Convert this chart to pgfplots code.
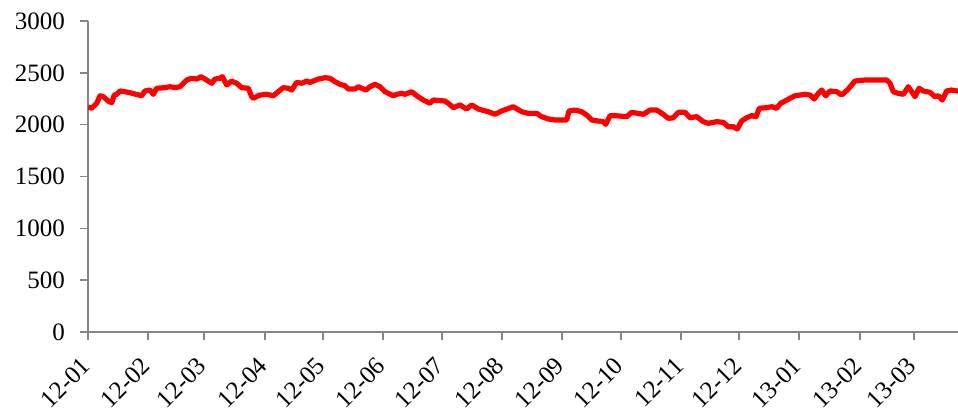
\documentclass[border=0pt]{standalone}
\usepackage{fontspec}
\setmainfont{Liberation Serif}
\usepackage{pgfplots}
\pgfplotsset{compat=1.18}
\definecolor{axgray}{RGB}{134,134,134}
\begin{document}
\begin{tikzpicture}
\useasboundingbox (-44pt,-38pt) rectangle (435pt,166pt);
\begin{axis}[
  scale only axis, width=435pt, height=155.5pt,
  at={(0,0)}, anchor=south west,
  xmin=0, xmax=870, ymin=0, ymax=3000,
  axis x line*=bottom, axis y line*=left,
  axis line style={axgray, line width=0.8pt, -},
  tick align=outside, major tick length=4pt,
  tick style={axgray, line width=0.8pt},
  ytick={0,500,1000,1500,2000,2500,3000},
  xtick={0,60,116,177,235,295,354,414,474,533,593,651,711,772,826},
  xticklabels={12-01,12-02,12-03,12-04,12-05,12-06,12-07,12-08,12-09,12-10,12-11,12-12,13-01,13-02,13-03},
  /pgf/number format/assume math mode=true,
  /pgf/number format/1000 sep={},
  yticklabel style={font=\fontsize{12.5}{14}\selectfont, xshift=-4pt},
  xticklabel style={font=\fontsize{12.5}{14}\selectfont, yshift=-8.5pt, xshift=1.5pt, rotate=45, anchor=east},
]
\addplot[red, line width=2.6pt, line join=round] coordinates {
(0,2170) (3.7,2158) (8.7,2206) (12,2279) (15.3,2270) (20.3,2228) (23.7,2212) (26.3,2286) (28.7,2293) (32,2325)
(40.3,2312) (53.7,2279) (57,2325) (62,2334) (65.3,2293) (68.7,2351) (77,2357) (82,2366) (87,2357) (92,2366)
(98.7,2431) (103.7,2447) (108.7,2440) (113,2463) (117,2440) (123.7,2399) (127,2440) (132,2447) (134.3,2463) (138.7,2383)
(143.7,2421) (148.7,2399) (153.7,2357) (160.3,2351) (163.7,2270) (165.3,2254) (170.3,2279) (172,2285) (178.7,2293) (185.3,2279)
(190.3,2318) (195.3,2357) (200.3,2351) (203.7,2334) (208.7,2408) (213.7,2399) (218.7,2421) (222,2408) (230.3,2440) (237,2453)
(242,2447) (247,2415) (252,2389) (257,2376) (260.3,2344) (267,2344) (270.3,2366) (273.7,2351) (278,2334) (282,2366)
(287,2389) (292,2366) (297,2318) (305.3,2279) (308.7,2293) (313.7,2302) (317,2293) (323.7,2318) (328.7,2279) (335.3,2238)
(342,2206) (345.3,2238) (352,2232) (357,2228) (360.3,2206) (365.3,2164) (372,2190) (378.7,2151) (383.7,2190) (390.3,2151)
(400.3,2125) (407,2100) (413.7,2132) (425.3,2173) (433.7,2125) (440.3,2109) (448.7,2109) (453.7,2077) (460.3,2055) (467,2045)
(475.3,2045) (478.7,2045) (481,2132) (487,2141) (493.7,2125) (498.7,2093) (503.7,2045) (510.3,2035) (515.3,2029) (517.7,2003)
(522,2087) (527,2087) (538.7,2077) (543.7,2119) (555.3,2100) (562,2141) (568.7,2141) (575.3,2100) (580.3,2061) (585.3,2067)
(590.3,2119) (597,2119) (602,2067) (608.7,2077) (615.3,2029) (620.3,2013) (628.7,2029) (635.3,2022) (640.3,1980) (645.3,1980)
(649.3,1958) (653.7,2035) (658.7,2067) (663.7,2087) (668,2077) (671.3,2158) (678.7,2164) (683.7,2173) (688.7,2158) (692.7,2206)
(697,2228) (702,2254) (707,2279) (717,2293) (722,2286) (726.3,2248) (730.3,2302) (733.7,2334) (737.7,2279) (742,2325)
(748.7,2318) (753.7,2286) (760.3,2344) (767,2421) (777,2431) (787,2431) (798.7,2431) (802,2399) (805.3,2318) (810.3,2302)
(815.3,2293) (820.3,2366) (823.7,2318) (827,2270) (831,2351) (835.3,2325) (842,2312) (847,2270) (850.3,2279) (854.3,2238)
(858.7,2325) (863.7,2334) (868.7,2325) (870,2325)
};
\end{axis}
\end{tikzpicture}
\end{document}
